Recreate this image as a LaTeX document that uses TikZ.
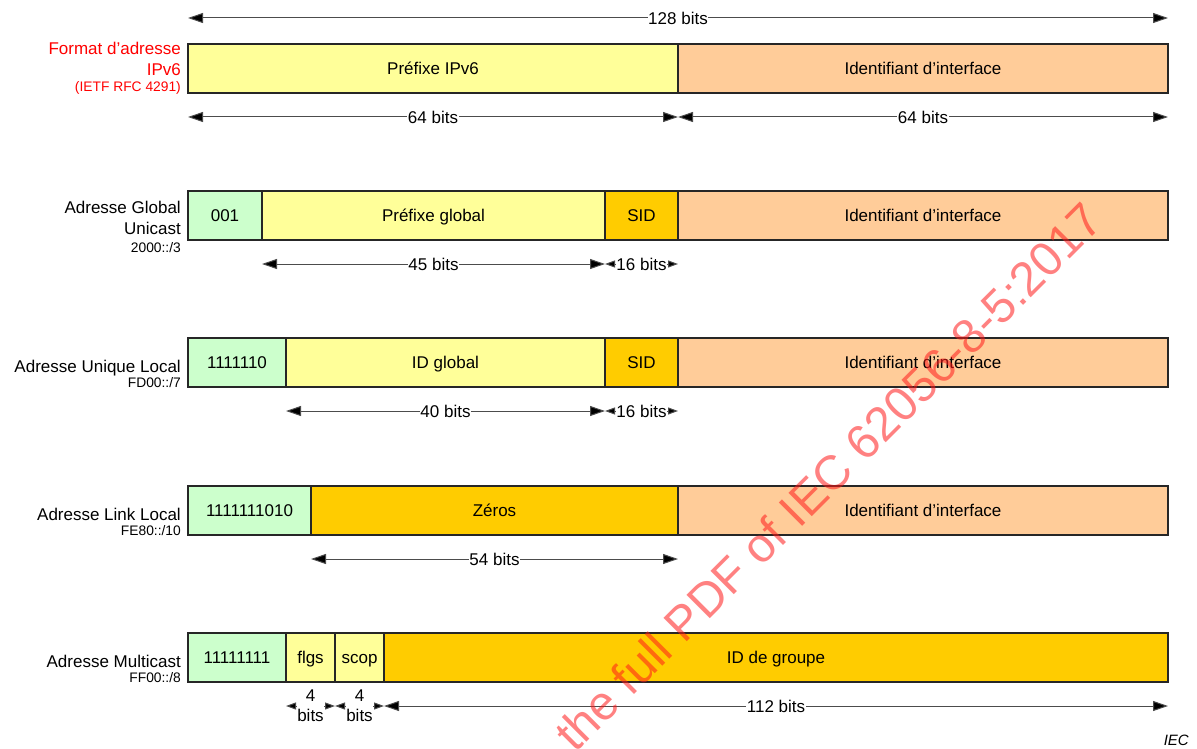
\documentclass[tikz,border=0pt]{standalone}
\usepackage{fontspec}
\setmainfont{Liberation Sans}
\usetikzlibrary{arrows.meta}
\definecolor{cgreen}{HTML}{CCFFCC}
\definecolor{cyellow}{HTML}{FFFF99}
\definecolor{corange}{HTML}{FFCC00}
\definecolor{cpeach}{HTML}{FFCC99}
\definecolor{wmred}{HTML}{FF1A1A}
\begin{document}
\begin{tikzpicture}[x=1pt,y=-1pt,
  field/.style={draw=black!85, line width=1.1pt, minimum height=49pt, inner sep=0pt,
    font=\fontsize{17}{20}\selectfont, text height=12.2pt, text depth=0pt},
  fgreen/.style={field, fill=cgreen},
  fyellow/.style={field, fill=cyellow},
  forange/.style={field, fill=corange},
  fpeach/.style={field, fill=cpeach},
  dim/.style={draw=black!70, line width=1pt,
    {Triangle[length=15pt,width=10pt,fill=black]}-{Triangle[length=15pt,width=10pt,fill=black]}},
  shortdim/.style={draw=black!70, line width=1pt,
    {Triangle[length=10pt,width=7pt,fill=black]}-{Triangle[length=10pt,width=7pt,fill=black]}},
  dimlbl/.style={fill=white, inner xsep=0.5pt, inner ysep=1pt,
    font=\fontsize{17}{20}\selectfont, text height=12.2pt, text depth=0pt},
  stacklbl/.style={fill=white, inner sep=0pt, align=center, font=\fontsize{17}{20}\selectfont},
  rowlbl/.style={anchor=base east, inner sep=0pt, font=\fontsize{17}{20}\selectfont},
  rowsub/.style={anchor=base east, inner sep=0pt, font=\fontsize{13.8}{16}\selectfont},
  watermark/.style={anchor=base west, rotate=45, inner sep=0pt, text=wmred, text opacity=0.55,
    font=\fontsize{48}{50}\selectfont},
]
\useasboundingbox (0,0) rectangle (1197,749);

% ---- IPv6 address format ----
\node[fyellow, minimum width=490pt] (p1) at (433,68.5) {Préfixe IPv6};
\node[fpeach,  minimum width=490pt] (i1) at (923,68.5) {Identifiant d’interface};
\node[rowlbl, text=red] (l1a) at (181,55) {Format d’adresse};
\node[rowlbl, text=red] (l1b) at (181,76) {IPv6};
\node[rowsub, text=red] (l1c) at (181,92) {(IETF RFC 4291)};

\coordinate (t0) at (188,18);
\coordinate (t1) at (1168,18);
\draw[dim] (t0) -- node[dimlbl] (t01) {128 bits} (t1);
\coordinate (u0) at (188,117);
\coordinate (u1) at (678,117);
\coordinate (u2) at (1168,117);
\draw[dim] (u0) -- node[dimlbl] (u01) {64 bits} (u1);
\draw[dim] (u1) -- node[dimlbl] (u12) {64 bits} (u2);

% ---- Global Unicast ----
\node[fgreen,  minimum width=74pt]  (g1) at (225,215.5) {001};
\node[fyellow, minimum width=343pt] (g2) at (433.5,215.5) {Préfixe global};
\node[forange, minimum width=73pt]  (g3) at (641.5,215.5) {SID};
\node[fpeach,  minimum width=490pt] (g4) at (923,215.5) {Identifiant d’interface};
\node[rowlbl] (l2a) at (181,213) {Adresse Global};
\node[rowlbl] (l2b) at (181,234) {Unicast};
\node[rowsub] (l2c) at (181,252) {2000::/3};

\coordinate (v0) at (262,264);
\coordinate (v1) at (605,264);
\coordinate (v2) at (678,264);
\draw[dim] (v0) -- node[dimlbl] (v01) {45 bits} (v1);
\draw[shortdim] (v1) -- node[dimlbl] (v12) {16 bits} (v2);

% ---- Unique Local ----
\node[fgreen,  minimum width=98pt]  (q1) at (237,362.5) {1111110};
\node[fyellow, minimum width=319pt] (q2) at (445.5,362.5) {ID global};
\node[forange, minimum width=73pt]  (q3) at (641.5,362.5) {SID};
\node[fpeach,  minimum width=490pt] (q4) at (923,362.5) {Identifiant d’interface};
\node[rowlbl] (l3a) at (181,372) {Adresse Unique Local};
\node[rowsub] (l3b) at (181,387) {FD00::/7};

\coordinate (w0) at (286,411);
\coordinate (w1) at (605,411);
\coordinate (w2) at (678,411);
\draw[dim] (w0) -- node[dimlbl] (w01) {40 bits} (w1);
\draw[shortdim] (w1) -- node[dimlbl] (w12) {16 bits} (w2);

% ---- Link Local ----
\node[fgreen,  minimum width=123pt] (k1) at (249.5,510.5) {1111111010};
\node[forange, minimum width=367pt] (k2) at (494.5,510.5) {Zéros};
\node[fpeach,  minimum width=490pt] (k3) at (923,510.5) {Identifiant d’interface};
\node[rowlbl] (l4a) at (181,520) {Adresse Link Local};
\node[rowsub] (l4b) at (181,535) {FE80::/10};

\coordinate (z0) at (311,559);
\coordinate (z1) at (678,559);
\draw[dim] (z0) -- node[dimlbl] (z01) {54 bits} (z1);

% ---- Multicast ----
\node[fgreen,  minimum width=98pt]  (m1) at (237,657.5) {11111111};
\node[fyellow, minimum width=49pt]  (m2) at (310.5,657.5) {flgs};
\node[fyellow, minimum width=49pt]  (m3) at (359.5,657.5) {scop};
\node[forange, minimum width=784pt] (m4) at (776,657.5) {ID de groupe};
\node[rowlbl] (l5a) at (181,667) {Adresse Multicast};
\node[rowsub] (l5b) at (181,682) {FF00::/8};

\coordinate (n0) at (286,706);
\coordinate (n1) at (335,706);
\coordinate (n2) at (384,706);
\coordinate (n3) at (1168,706);
\draw[shortdim] (n0) -- node[stacklbl] (n01) {4\\bits} (n1);
\draw[shortdim] (n1) -- node[stacklbl] (n12) {4\\bits} (n2);
\draw[dim] (n2) -- node[dimlbl] (n23) {112 bits} (n3);

% ---- source mark ----
\node[anchor=base east, inner sep=0pt, font=\fontsize{15}{18}\selectfont\itshape] (iec) at (1189,745) {IEC};

% ---- watermark ----
\node[watermark] (wm) at (575,754) {the full PDF of IEC 62056-8-5:2017};
\end{tikzpicture}
\end{document}
